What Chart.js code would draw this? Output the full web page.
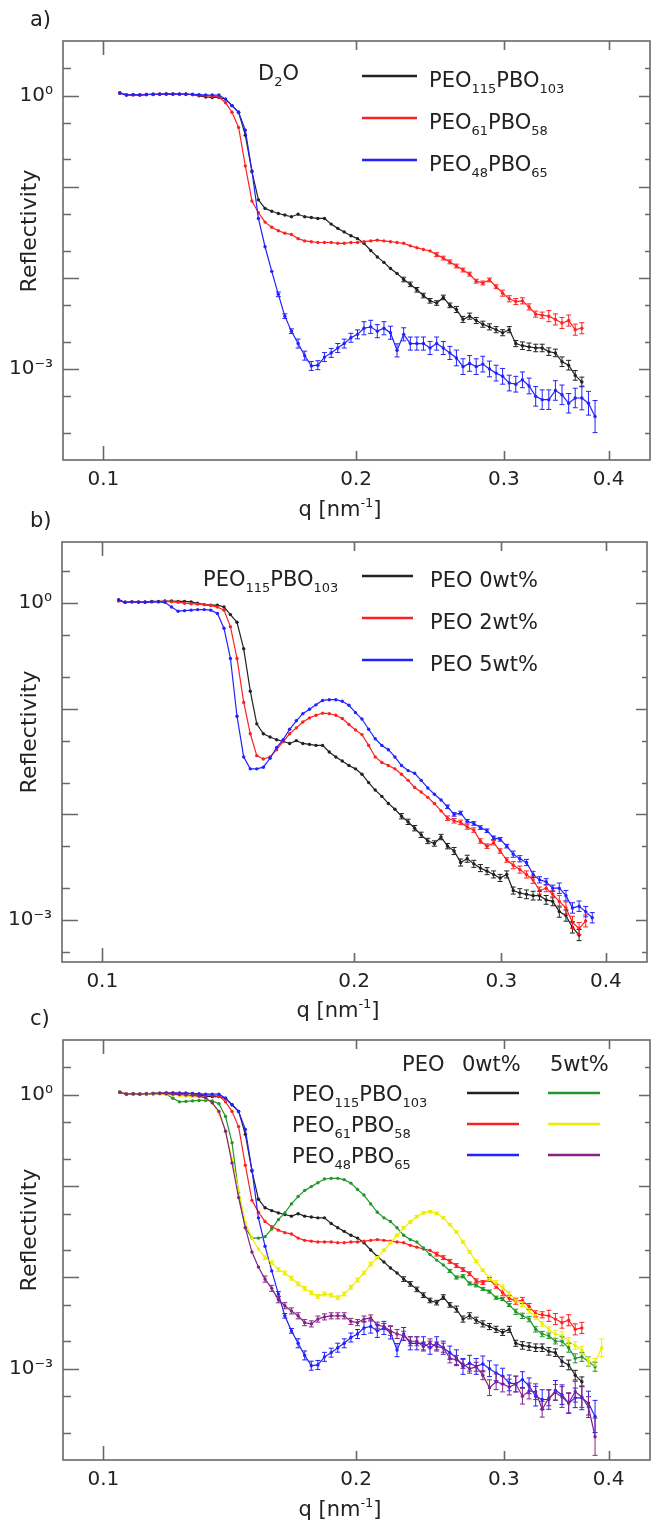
<!DOCTYPE html>
<html>
<head>
<meta charset="utf-8">
<script src="https://cdn.jsdelivr.net/npm/chart.js@4.4.1/dist/chart.umd.min.js"></script>
<style>
  body { margin: 0; background: #fff; }
  #wrap { position: relative; width: 653px; height: 1522px; overflow: hidden; }
  canvas { position: absolute; left: 0; }
</style>
</head>
<body>
<div id="wrap">
  <canvas id="chartA" width="653" height="530" style="top:0px"></canvas>
  <canvas id="chartB" width="653" height="530" style="top:500px"></canvas>
  <canvas id="chartC" width="653" height="522" style="top:1000px"></canvas>
</div>
<script>
// q grid shared by all measurements (nm^-1)
const q = [
  0.1046, 0.1065, 0.1085, 0.1105, 0.1125, 0.1146, 0.1167, 0.1188, 0.1210, 0.1232,
  0.1254, 0.1277, 0.1300, 0.1324, 0.1348, 0.1373, 0.1398, 0.1423, 0.1449, 0.1476,
  0.1503, 0.1530, 0.1558, 0.1587, 0.1616, 0.1645, 0.1675, 0.1706, 0.1737, 0.1769,
  0.1801, 0.1834, 0.1868, 0.1902, 0.1936, 0.1972, 0.2008, 0.2044, 0.2082, 0.2120,
  0.2159, 0.2198, 0.2238, 0.2279, 0.2321, 0.2363, 0.2406, 0.2450, 0.2495, 0.2541,
  0.2587, 0.2634, 0.2682, 0.2731, 0.2781, 0.2832, 0.2884, 0.2937, 0.2990, 0.3045,
  0.3100, 0.3157, 0.3215, 0.3274, 0.3333, 0.3394, 0.3456, 0.3519, 0.3584, 0.3649,
  0.3716, 0.3784, 0.3853, 0.3923
];

const qTicks = [0.1, 0.2, 0.3, 0.4];
const rTicks = [2, 1, 0.5, 0.2, 0.1, 0.05, 0.02, 0.01, 0.005, 0.002, 0.001, 0.0005, 0.0002];
const rLabels = { "1": "10⁰", "0.001": "10⁻³" };

const blockNames = ["PEO_{115}PBO_{103}", "PEO_{61}PBO_{58}", "PEO_{48}PBO_{65}"];
const loadNames = ["PEO 0wt%", "PEO 2wt%", "PEO 5wt%"];
const colNames = ["PEO", "0wt%", "5wt%"];

// PEO115PBO103, no PEO
const r115 = [
  1.08, 1.02, 1.03, 1.02, 1.03, 1.04, 1.04, 1.05, 1.05, 1.04,
  1.04, 1.03, 1.00, 0.97, 0.96, 0.96, 0.92, 0.78, 0.66, 0.37,
  0.147, 0.072, 0.058, 0.054, 0.051, 0.049, 0.047, 0.050, 0.047, 0.046,
  0.045, 0.045, 0.039, 0.035, 0.032, 0.029, 0.027, 0.024, 0.020, 0.017,
  0.0148, 0.0127, 0.0112, 0.0096, 0.0085, 0.0074, 0.0064, 0.0056, 0.0053, 0.0061,
  0.0050, 0.0045, 0.0035, 0.0038, 0.0034, 0.0031, 0.0029, 0.0027, 0.0025, 0.0027,
  0.0019, 0.0018, 0.00175, 0.0017, 0.0017, 0.00155, 0.0015, 0.0012, 0.0011, 0.00085,
  0.00072
];
const e115 = [
  0, 0, 0, 0, 0, 0, 0, 0, 0, 0,
  0, 0, 0, 0, 0, 0, 0, 0, 0, 0,
  0, 0, 0, 0, 0, 0, 0, 0, 0, 0,
  0, 0, 0, 0, 0, 0, 0, 0, 0, 0,
  0, 0, 0, 0.06, 0.06, 0.06, 0.06, 0.06, 0.06, 0.06,
  0.06, 0.08, 0.08, 0.08, 0.08, 0.08, 0.08, 0.08, 0.08, 0.08,
  0.08, 0.1, 0.1, 0.1, 0.1, 0.1, 0.1, 0.13, 0.13, 0.13,
  0.13
];

// PEO61PBO58, no PEO
const r61 = [
  1.07, 1.03, 1.02, 1.03, 1.04, 1.03, 1.05, 1.04, 1.05, 1.04,
  1.05, 1.03, 1.02, 1.00, 0.99, 0.97, 0.84, 0.66, 0.45, 0.17,
  0.070, 0.052, 0.041, 0.036, 0.033, 0.031, 0.030, 0.027, 0.0255, 0.025,
  0.0245, 0.0245, 0.0245, 0.024, 0.024, 0.0245, 0.0245, 0.025, 0.0255, 0.026,
  0.0255, 0.025, 0.0245, 0.024, 0.0225, 0.0215, 0.0205, 0.0198, 0.018, 0.0165,
  0.015, 0.0135, 0.0122, 0.011, 0.0092, 0.0088, 0.0095, 0.0080, 0.0068, 0.0059,
  0.0055, 0.0056, 0.0048, 0.0040, 0.0039, 0.0038, 0.0035, 0.0032, 0.0034, 0.0027,
  0.0028
];
const e61 = [
  0, 0, 0, 0, 0, 0, 0, 0, 0, 0,
  0, 0, 0, 0, 0, 0, 0, 0, 0, 0,
  0, 0, 0, 0, 0, 0, 0, 0, 0, 0,
  0, 0, 0, 0, 0, 0, 0, 0, 0, 0,
  0, 0, 0, 0, 0, 0, 0, 0, 0.05, 0.05,
  0.05, 0.05, 0.05, 0.05, 0.05, 0.05, 0.05, 0.05, 0.08, 0.08,
  0.08, 0.08, 0.08, 0.08, 0.08, 0.15, 0.15, 0.15, 0.15, 0.15,
  0.15
];

// PEO48PBO65, no PEO
const r48 = [
  1.07, 1.02, 1.03, 1.02, 1.03, 1.04, 1.04, 1.05, 1.04, 1.05,
  1.04, 1.04, 1.03, 1.02, 1.02, 1.02, 0.92, 0.78, 0.66, 0.42,
  0.15, 0.045, 0.022, 0.0118, 0.0066, 0.0038, 0.0026, 0.0019, 0.0014, 0.00108,
  0.0011, 0.00135, 0.0015, 0.0017, 0.0019, 0.0022, 0.0024, 0.0028, 0.0029, 0.0026,
  0.0028, 0.0025, 0.0016, 0.0024, 0.0019, 0.0019, 0.0019, 0.0017, 0.0019, 0.0017,
  0.0015, 0.00132, 0.00106, 0.00115, 0.00106, 0.00113, 0.0010, 0.0009, 0.00083, 0.0007,
  0.00068, 0.00076, 0.00065, 0.0005, 0.00046, 0.00046, 0.00058, 0.00052, 0.00042, 0.00048,
  0.00048, 0.00042, 0.0003
];
const e48 = [
  0, 0, 0, 0, 0, 0, 0, 0, 0, 0,
  0, 0, 0, 0, 0, 0, 0, 0, 0, 0,
  0, 0, 0, 0, 0.06, 0.06, 0.06, 0.12, 0.12, 0.12,
  0.12, 0.12, 0.12, 0.12, 0.12, 0.12, 0.12, 0.18, 0.18, 0.18,
  0.18, 0.18, 0.18, 0.18, 0.18, 0.18, 0.18, 0.18, 0.18, 0.18,
  0.18, 0.22, 0.22, 0.22, 0.22, 0.22, 0.22, 0.22, 0.22, 0.22,
  0.22, 0.22, 0.22, 0.28, 0.28, 0.28, 0.28, 0.28, 0.28, 0.28,
  0.35, 0.35, 0.5
];

// PEO115PBO103 + 2wt% PEO
const r115p2 = [
  1.05, 1.02, 1.03, 1.02, 1.02, 1.03, 1.03, 1.04, 1.03, 1.02,
  1.00, 0.99, 0.98, 0.97, 0.95, 0.92, 0.86, 0.60, 0.30, 0.115,
  0.058, 0.036, 0.0335, 0.035, 0.041, 0.049, 0.058, 0.066, 0.075, 0.082,
  0.087, 0.091, 0.090, 0.087, 0.081, 0.071, 0.063, 0.057, 0.045, 0.035,
  0.031, 0.029, 0.027, 0.024, 0.021, 0.018, 0.0163, 0.0145, 0.0127, 0.0108,
  0.0092, 0.0087, 0.0084, 0.0076, 0.0071, 0.0056, 0.0050, 0.0054, 0.0045, 0.0037,
  0.0033, 0.0030, 0.0027, 0.0024, 0.0019, 0.0020, 0.00175, 0.0015, 0.0013, 0.00095,
  0.00083, 0.00098
];
const e115p2 = [
  0, 0, 0, 0, 0, 0, 0, 0, 0, 0,
  0, 0, 0, 0, 0, 0, 0, 0, 0, 0,
  0, 0, 0, 0, 0, 0, 0, 0, 0, 0,
  0, 0, 0, 0, 0, 0, 0, 0, 0, 0,
  0, 0, 0, 0, 0, 0, 0, 0, 0, 0,
  0.05, 0.05, 0.05, 0.05, 0.05, 0.05, 0.05, 0.05, 0.05, 0.05,
  0.08, 0.08, 0.08, 0.08, 0.08, 0.08, 0.08, 0.14, 0.14, 0.14,
  0.14, 0.14
];

// PEO115PBO103 + 5wt% PEO
const r115p5 = [
  1.07, 1.02, 1.03, 1.03, 1.02, 1.03, 1.03, 1.02, 0.92, 0.84,
  0.85, 0.86, 0.87, 0.87, 0.86, 0.80, 0.58, 0.30, 0.085, 0.035,
  0.027, 0.027, 0.028, 0.034, 0.043, 0.051, 0.064, 0.077, 0.090, 0.099,
  0.109, 0.120, 0.122, 0.122, 0.118, 0.108, 0.092, 0.080, 0.064, 0.052,
  0.045, 0.041, 0.035, 0.029, 0.026, 0.0245, 0.021, 0.0178, 0.0155, 0.0137,
  0.0118, 0.0100, 0.0103, 0.0086, 0.0082, 0.0075, 0.0070, 0.0060, 0.0058, 0.0050,
  0.0042, 0.0038, 0.0035, 0.0027, 0.0024, 0.0023, 0.0020, 0.0020, 0.0017, 0.0013,
  0.00135, 0.0012, 0.00105
];
const e115p5 = [
  0, 0, 0, 0, 0, 0, 0, 0, 0, 0,
  0, 0, 0, 0, 0, 0, 0, 0, 0, 0,
  0, 0, 0, 0, 0, 0, 0, 0, 0, 0,
  0, 0, 0, 0, 0, 0, 0, 0, 0, 0,
  0, 0, 0, 0, 0, 0, 0, 0, 0, 0,
  0.04, 0.04, 0.04, 0.04, 0.04, 0.04, 0.04, 0.04, 0.04, 0.04,
  0.07, 0.07, 0.07, 0.07, 0.07, 0.07, 0.07, 0.12, 0.12, 0.12,
  0.12, 0.12, 0.12
];

// PEO61PBO58 + 5wt% PEO
const r61p5 = [
  1.08, 1.02, 1.03, 1.02, 1.03, 1.02, 1.02, 1.01, 1.00, 0.98,
  0.97, 0.96, 0.95, 0.92, 0.82, 0.62, 0.40, 0.20, 0.09, 0.040,
  0.027, 0.0205, 0.0165, 0.0145, 0.0122, 0.0112, 0.0098, 0.0085, 0.0076, 0.0068,
  0.0062, 0.0066, 0.0064, 0.0060, 0.0066, 0.0078, 0.0094, 0.0112, 0.0140, 0.0165,
  0.0199, 0.0240, 0.0290, 0.0350, 0.0405, 0.0465, 0.0510, 0.0525, 0.0505, 0.0450,
  0.0380, 0.0315, 0.0245, 0.0190, 0.0150, 0.0120, 0.0098, 0.0087, 0.0078, 0.0066,
  0.0057, 0.0051, 0.0043, 0.0037, 0.0031, 0.0027, 0.0024, 0.0023, 0.0020, 0.0018,
  0.0016, 0.0012, 0.00118, 0.0017
];
const e61p5 = [
  0, 0, 0, 0, 0, 0, 0, 0, 0, 0,
  0, 0, 0, 0, 0, 0, 0, 0, 0, 0,
  0, 0, 0.05, 0.05, 0.05, 0.05, 0.05, 0.05, 0.05, 0.05,
  0.05, 0.05, 0.05, 0.05, 0.05, 0.05, 0.05, 0.05, 0.05, 0.03,
  0.03, 0.03, 0.03, 0.03, 0.03, 0.03, 0.03, 0.03, 0.03, 0.03,
  0.03, 0.03, 0.03, 0.03, 0.03, 0.03, 0.06, 0.06, 0.06, 0.06,
  0.06, 0.06, 0.06, 0.06, 0.06, 0.06, 0.1, 0.1, 0.1, 0.1,
  0.1, 0.1, 0.1, 0.25
];

// PEO48PBO65 + 5wt% PEO
const r48p5 = [
  1.07, 1.02, 1.03, 1.02, 1.03, 1.03, 1.04, 1.03, 1.02, 1.01,
  1.00, 0.99, 0.97, 0.93, 0.82, 0.66, 0.40, 0.18, 0.075, 0.035,
  0.019, 0.013, 0.0096, 0.0076, 0.0057, 0.0049, 0.0043, 0.0038, 0.0032, 0.0031,
  0.0035, 0.0037, 0.0038, 0.0038, 0.0038, 0.0033, 0.0032, 0.0035, 0.0036, 0.0030,
  0.0029, 0.0026, 0.0024, 0.0023, 0.0020, 0.0020, 0.00175, 0.0019, 0.00175, 0.0017,
  0.0013, 0.00125, 0.00113, 0.0010, 0.00105, 0.00085, 0.00062, 0.00072, 0.00068, 0.00063,
  0.00068, 0.0005, 0.00057, 0.00056, 0.00036, 0.00048, 0.00055, 0.00049, 0.00042, 0.00056,
  0.00049, 0.00038, 0.00018
];
const e48p5 = [
  0, 0, 0, 0, 0, 0, 0, 0, 0, 0,
  0, 0, 0, 0, 0, 0, 0, 0, 0, 0,
  0, 0, 0.08, 0.08, 0.08, 0.08, 0.08, 0.08, 0.08, 0.08,
  0.08, 0.08, 0.08, 0.08, 0.08, 0.08, 0.08, 0.08, 0.08, 0.08,
  0.08, 0.12, 0.12, 0.12, 0.12, 0.12, 0.12, 0.12, 0.12, 0.12,
  0.12, 0.12, 0.12, 0.12, 0.12, 0.12, 0.22, 0.22, 0.22, 0.22,
  0.22, 0.22, 0.22, 0.22, 0.22, 0.22, 0.22, 0.3, 0.3, 0.3,
  0.3, 0.3, 0.6
];

const colors = {
  black: "#222222", red: "#ff2020", blue: "#2222ff",
  green: "#22962a", yellow: "#eeee00", purple: "#862486"
};
const FONT = "'DejaVu Sans', Verdana, sans-serif";
const TEXT = "#222";

function series(vals, errs, color, order) {
  return {
    data: vals.map((v, i) => ({ x: q[i], y: v })),
    err: errs,
    borderColor: color,
    backgroundColor: color,
    borderWidth: 1.2,
    pointRadius: 1.7,
    pointBorderWidth: 0,
    pointHoverRadius: 0,
    showLine: true,
    order: order
  };
}

// split "PEO_{115}" style strings into normal / sub / sup pieces
function richParts(s) {
  const parts = [];
  const re = /([_^])\{([^}]*)\}/g;
  let last = 0, m;
  while ((m = re.exec(s))) {
    if (m.index > last) parts.push([s.slice(last, m.index), 0]);
    parts.push([m[2], m[1] === "_" ? 1 : 2]);
    last = re.lastIndex;
  }
  if (last < s.length) parts.push([s.slice(last), 0]);
  return parts;
}

function drawRich(ctx, s, x, y, size, center) {
  const parts = richParts(s);
  const small = Math.round(size * 0.6);
  let w = 0;
  parts.forEach(([t, k]) => {
    ctx.font = (k ? small : size) + "px " + FONT;
    w += ctx.measureText(t).width;
  });
  let cx = center ? x - w / 2 : x;
  ctx.textAlign = "left";
  ctx.textBaseline = "alphabetic";
  parts.forEach(([t, k]) => {
    ctx.font = (k ? small : size) + "px " + FONT;
    const dy = k === 1 ? size * 0.3 : k === 2 ? -size * 0.45 : 0;
    ctx.fillText(t, cx, y + dy);
    cx += ctx.measureText(t).width;
  });
}

const errorBars = {
  id: "errorBars",
  afterDatasetsDraw(chart) {
    const { ctx, chartArea: a, scales: { x, y } } = chart;
    ctx.save();
    ctx.beginPath();
    ctx.rect(a.left, a.top, a.right - a.left, a.bottom - a.top);
    ctx.clip();
    chart.data.datasets.forEach(ds => {
      if (!ds.err) return;
      ctx.strokeStyle = ds.borderColor;
      ctx.lineWidth = 1;
      ctx.beginPath();
      ds.data.forEach((p, i) => {
        const e = ds.err[i];
        if (!e) return;
        const px = x.getPixelForValue(p.x);
        const y1 = y.getPixelForValue(p.y * (1 + e));
        const y2 = y.getPixelForValue(p.y / (1 + e));
        ctx.moveTo(px, y1); ctx.lineTo(px, y2);
        ctx.moveTo(px - 2.5, y1); ctx.lineTo(px + 2.5, y1);
        ctx.moveTo(px - 2.5, y2); ctx.lineTo(px + 2.5, y2);
      });
      ctx.stroke();
    });
    ctx.restore();
  }
};

function isDecade(v) {
  const l = Math.log10(v);
  return Math.abs(l - Math.round(l)) < 1e-6;
}

// box with inward ticks on all four sides
const frame = {
  id: "frame",
  afterDraw(chart) {
    const { ctx, chartArea: a, scales: { x, y } } = chart;
    ctx.save();
    ctx.strokeStyle = "#686868";
    ctx.lineWidth = 1.6;
    ctx.strokeRect(a.left, a.top, a.right - a.left, a.bottom - a.top);
    ctx.beginPath();
    qTicks.forEach(v => {
      const px = Math.round(x.getPixelForValue(v)) + 0.5;
      const len = isDecade(v) ? 14 : 9;
      ctx.moveTo(px, a.bottom); ctx.lineTo(px, a.bottom - len);
      ctx.moveTo(px, a.top); ctx.lineTo(px, a.top + len);
    });
    rTicks.forEach(v => {
      if (v <= y.min || v >= y.max) return;
      const py = Math.round(y.getPixelForValue(v)) + 0.5;
      const major = isDecade(v);
      ctx.moveTo(a.left, py); ctx.lineTo(a.left + (major ? 16 : 8), py);
      ctx.moveTo(a.right, py); ctx.lineTo(a.right - (major ? 11 : 5), py);
    });
    ctx.stroke();
    ctx.restore();
  }
};

// panel letter, axis titles, legend
const decor = {
  id: "decor",
  afterDraw(chart, args, o) {
    const { ctx } = chart;
    const sets = chart.data.datasets;
    ctx.save();
    ctx.fillStyle = TEXT;
    (o.texts || []).forEach(([s, x, y]) => drawRich(ctx, s, x, y, 21, false));
    (o.lines || []).forEach(([x1, x2, y, idx]) => {
      ctx.strokeStyle = sets[idx].borderColor;
      ctx.lineWidth = 2.4;
      ctx.beginPath();
      ctx.moveTo(x1, y); ctx.lineTo(x2, y);
      ctx.stroke();
    });
    ctx.fillStyle = TEXT;
    drawRich(ctx, "q [nm^{-1}]", o.xTitle[0], o.xTitle[1], 21, true);
    ctx.translate(o.yTitle[0], o.yTitle[1]);
    ctx.rotate(-Math.PI / 2);
    ctx.font = "22px " + FONT;
    ctx.textAlign = "center";
    ctx.textBaseline = "middle";
    ctx.fillText("Reflectivity", 0, 0);
    ctx.restore();
  }
};

function makeChart(id, cfg) {
  const tickFont = { family: FONT, size: 20 };
  return new Chart(document.getElementById(id), {
    type: "scatter",
    data: { datasets: cfg.datasets },
    options: {
      responsive: false,
      animation: false,
      devicePixelRatio: 1,
      layout: { padding: { top: cfg.top, right: cfg.right, left: 0, bottom: 0 } },
      plugins: { legend: { display: false }, tooltip: { enabled: false }, decor: cfg.decor },
      scales: {
        x: {
          type: "logarithmic", min: 0.0895, max: 0.448,
          afterFit: s => { s.height = cfg.xh; },
          afterBuildTicks: s => { s.ticks = qTicks.map(v => ({ value: v })); },
          grid: { display: false, drawTicks: false },
          border: { display: false },
          ticks: { font: tickFont, color: TEXT, padding: 8, autoSkip: false, maxRotation: 0,
                   callback: v => v.toFixed(1) }
        },
        y: {
          type: "logarithmic", min: cfg.ymin, max: cfg.ymax,
          afterFit: s => { s.width = cfg.yw; },
          afterBuildTicks: s => { s.ticks = [1, 0.001].map(v => ({ value: v })); },
          grid: { display: false, drawTicks: false },
          border: { display: false },
          ticks: { font: tickFont, color: TEXT, padding: 10, autoSkip: false,
                   callback: v => rLabels[String(v)] }
        }
      }
    },
    plugins: [errorBars, frame, decor]
  });
}

// a) D2O, three block copolymers
makeChart("chartA", {
  top: 41, right: 3, xh: 70, yw: 63, ymin: 1e-4, ymax: 4,
  datasets: [
    series(r115, e115, colors.black, 3),
    series(r61, e61, colors.red, 2),
    series(r48, e48, colors.blue, 1)
  ],
  decor: {
    texts: [["a)", 30, 26], ["D_{2}O", 258, 80],
            [blockNames[0], 429, 87], [blockNames[1], 429, 129], [blockNames[2], 429, 171]],
    lines: [[362, 417, 76, 0], [362, 417, 118, 1], [362, 417, 160, 2]],
    xTitle: [340, 516], yTitle: [30, 231]
  }
});

// b) PEO115PBO103 with added PEO
makeChart("chartB", {
  top: 42, right: 6, xh: 68, yw: 62, ymin: 4e-4, ymax: 3.8,
  datasets: [
    series(r115, e115, colors.black, 3),
    series(r115p2, e115p2, colors.red, 2),
    series(r115p5, e115p5, colors.blue, 1)
  ],
  decor: {
    texts: [["b)", 30, 27], [blockNames[0], 203, 86],
            [loadNames[0], 430, 87], [loadNames[1], 430, 129], [loadNames[2], 430, 171]],
    lines: [[362, 413, 76, 0], [362, 413, 118, 1], [362, 413, 160, 2]],
    xTitle: [338, 517], yTitle: [30, 232]
  }
});

// c) all three, 0 and 5 wt% PEO
makeChart("chartC", {
  top: 40, right: 3, xh: 62, yw: 63, ymin: 1e-4, ymax: 4,
  datasets: [
    series(r115, e115, colors.black, 6),
    series(r61, e61, colors.red, 5),
    series(r48, e48, colors.blue, 4),
    series(r115p5, e115p5, colors.green, 3),
    series(r61p5, e61p5, colors.yellow, 2),
    series(r48p5, e48p5, colors.purple, 1)
  ],
  decor: {
    texts: [["c)", 30, 25], [colNames[0], 402, 71], [colNames[1], 462, 71], [colNames[2], 550, 71],
            [blockNames[0], 292, 101], [blockNames[1], 292, 132], [blockNames[2], 292, 163]],
    lines: [[467, 519, 93, 0], [548, 600, 93, 3],
            [467, 519, 124, 1], [548, 600, 124, 4],
            [467, 519, 155, 2], [548, 600, 155, 5]],
    xTitle: [340, 516], yTitle: [30, 230]
  }
});
</script>
</body>
</html>
